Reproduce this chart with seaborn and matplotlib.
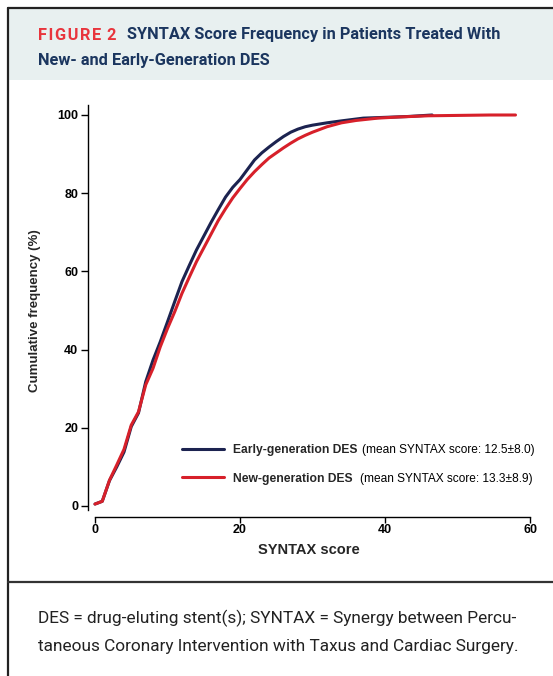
import numpy as np
import pandas as pd
import matplotlib
matplotlib.use("Agg")
import matplotlib.pyplot as plt
import seaborn as sns
from matplotlib.lines import Line2D
from matplotlib.patches import Rectangle

# ---------------- data ----------------
early_score = [0, 1, 2, 3, 4, 5, 6, 7, 8, 9, 10, 11, 12, 13, 14, 15, 16, 17, 18, 19, 20,
               21, 22, 23, 24, 25, 26, 27, 28, 29, 30, 32, 34, 37, 40, 43, 46.5]
early_pct = [0.5, 1.2, 6.5, 10, 13.8, 20.3, 23.8, 31.8, 37.3, 42, 47.1, 52.3, 57.4, 61.5,
             65.5, 69, 72.5, 75.8, 79, 81.5, 83.5, 86, 88.5, 90.3, 91.8, 93.2, 94.5, 95.6,
             96.4, 97, 97.4, 98, 98.5, 99.2, 99.4, 99.6, 100]

new_score = [0, 1, 2, 3, 4, 5, 6, 7, 8, 9, 10, 11, 12, 13, 14, 15, 16, 17, 18, 19, 20,
             21, 22, 23, 24, 25, 26, 27, 28, 29, 30, 32, 34, 36, 39, 42, 46, 54.5, 58]
new_pct = [0.5, 1.2, 6.6, 10.5, 14.5, 20.7, 24.1, 31, 35.2, 40.7, 45.4, 49.7, 54.4, 58.5,
           62.5, 66, 69.5, 73, 76, 78.8, 81.2, 83.5, 85.5, 87.3, 89, 90.3, 91.6, 92.8,
           93.9, 94.8, 95.6, 97, 98, 98.6, 99.2, 99.5, 99.8, 100, 100]

groups = ["Early-generation DES", "New-generation DES"]
group_notes = ["(mean SYNTAX score: 12.5\u00b18.0)", "(mean SYNTAX score: 13.3\u00b18.9)"]
x_ticks = [0, 20, 40, 60]
y_ticks = [0, 20, 40, 60, 80, 100]

df = pd.concat([
    pd.DataFrame({"score": early_score, "pct": early_pct, "group": groups[0]}),
    pd.DataFrame({"score": new_score, "pct": new_pct, "group": groups[1]}),
])

# ---------------- style ----------------
sns.set_style("ticks")
plt.rcParams["font.family"] = ["Liberation Sans", "DejaVu Sans"]

W, H = 553, 676
fig = plt.figure(figsize=(W / 100, H / 100), dpi=100)

def fx(px):
    return px / W

def fy(py):
    return 1 - py / H

# header background and frame
fig.add_artist(Rectangle((fx(9), fy(80)), fx(W - 9), 71 / H, transform=fig.transFigure,
                         facecolor="#e8f0f0", edgecolor="none", zorder=0))
fig.add_artist(Line2D([fx(8), 1], [fy(7.5), fy(7.5)], transform=fig.transFigure,
                      color="#222222", lw=1.6))
fig.add_artist(Line2D([fx(8), fx(8)], [fy(7.5), 0], transform=fig.transFigure,
                      color="#222222", lw=1.6))
fig.add_artist(Line2D([fx(8), 1], [fy(582), fy(582)], transform=fig.transFigure,
                      color="#333333", lw=1.6))

# title
title_font = ["Roboto", "DejaVu Sans"]
fig.text(fx(38), fy(39.5), "F\u200aI\u200aG\u200aU\u200aR\u200aE\u200a 2", color="#e8353d",
         fontsize=11.8, fontweight="bold", family=title_font, va="baseline", ha="left")
fig.text(fx(127), fy(39.5), "SYNTAX Score Frequency in Patients Treated With",
         color="#1b365f", fontsize=11.8, fontweight="bold",
         family=title_font, va="baseline", ha="left")
fig.text(fx(38), fy(65), "New- and Early-Generation DES",
         color="#1b365f", fontsize=11.8, fontweight="bold",
         family=title_font, va="baseline", ha="left")

# footnote
fig.text(fx(38), fy(623), "DES = drug-eluting stent(s); SYNTAX = Synergy between Percu-",
         color="#222222", fontsize=12.4, family=title_font,
         va="baseline", ha="left")
fig.text(fx(38), fy(651), "taneous Coronary Intervention with Taxus and Cardiac Surgery.",
         color="#222222", fontsize=12.4, family=title_font,
         va="baseline", ha="left")

# ---------------- axes ----------------
ax = fig.add_axes([fx(88), fy(517), (530 - 88) / W, (517 - 105) / H])
ax.set_facecolor("none")
palette = {groups[0]: "#1c2350", groups[1]: "#d7202a"}
sns.lineplot(data=df, x="score", y="pct", hue="group", palette=palette, ax=ax,
             linewidth=2.2, legend=False, estimator=None, sort=False)

ax.set_xlim(-7 / 7.25, 60)
ax.set_ylim((506 - 517) / 3.91, (506 - 105) / 3.91)
ax.set_xticks(x_ticks)
ax.set_yticks(y_ticks)
for s in ["top", "right"]:
    ax.spines[s].set_visible(False)
ax.spines["bottom"].set_bounds(0, 60)
ax.spines["left"].set_bounds(-1, 102.5)
for s in ["bottom", "left"]:
    ax.spines[s].set_linewidth(1.0)
    ax.spines[s].set_color("black")
ax.tick_params(axis="both", direction="out", length=5, width=1.0, colors="black",
               labelsize=9)
ax.tick_params(axis="x", length=4, pad=1)
ax.tick_params(axis="y", pad=2)
for lab in ax.get_xticklabels() + ax.get_yticklabels():
    lab.set_fontweight("bold")
ax.set_xlabel("SYNTAX score", fontsize=10.5, fontweight="bold", labelpad=5)
ax.set_ylabel("Cumulative frequency (%)", fontsize=9.5, fontweight="bold", labelpad=12)

# legend
handles = [Line2D([], [], color=palette[g], lw=2.2) for g in groups]
leg = ax.legend(handles, groups, loc="upper left",
                bbox_to_anchor=(fx(182), fy(444)), bbox_transform=fig.transFigure,
                frameon=False, fontsize=8.7, handlelength=3.5, handletextpad=0.7,
                labelspacing=1.38, borderpad=0, borderaxespad=0)
for t in leg.get_texts():
    t.set_fontweight("bold")

fig.canvas.draw()
gaps = [5, 8]
for t, note, gap in zip(leg.get_texts(), group_notes, gaps):
    bb = t.get_window_extent()
    fig.text((bb.x1 + gap) / W, bb.y0 / H, note, fontsize=8.6, color="black",
             va="bottom", ha="left")

fig.savefig("out.png", dpi=100)
